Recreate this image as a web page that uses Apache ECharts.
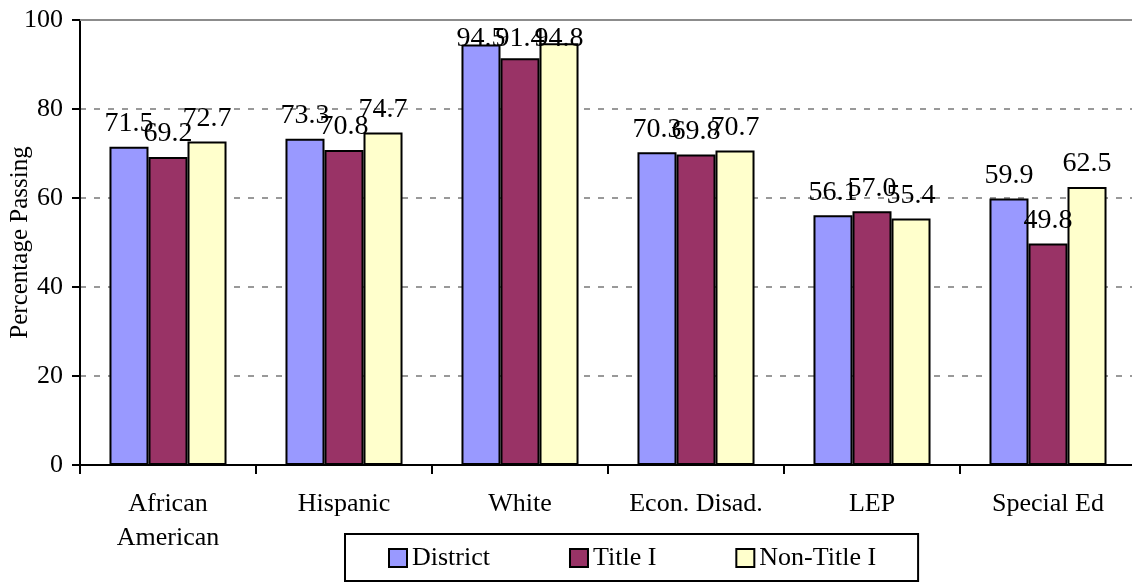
<!DOCTYPE html>
<html>
<head>
<meta charset="utf-8">
<script src="https://cdn.jsdelivr.net/npm/echarts@6/dist/echarts.min.js"></script>
<style>
  html, body { margin: 0; padding: 0; background: #fff; }
  #chart { width: 1132px; height: 585px; }
</style>
</head>
<body>
<div id="chart"></div>
<script>
// Passing rates by student group
var categories = ['African\nAmerican', 'Hispanic', 'White', 'Econ. Disad.', 'LEP', 'Special Ed'];
var seriesNames = ['District', 'Title I', 'Non-Title I'];
var districtValues = [71.5, 73.3, 94.5, 70.3, 56.1, 59.9];
var titleOneValues = [69.2, 70.8, 91.4, 69.8, 57.0, 49.8];
var nonTitleOneValues = [72.7, 74.7, 94.8, 70.7, 55.4, 62.5];
var yTicks = [0, 20, 40, 60, 80, 100];

var FONT = '"Liberation Serif", "Times New Roman", serif';
var colors = ['#9999FF', '#993366', '#FFFFCC'];
var gridTop = 20;

var chart = echarts.init(document.getElementById('chart'), null, { renderer: 'canvas' });

function makeSeries(name, data, color) {
  return {
    name: name,
    type: 'bar',
    data: data,
    barGap: '0%',
    barCategoryGap: '33.5%',
    itemStyle: { color: color, borderColor: '#000', borderWidth: 2 },
    label: {
      show: true,
      position: 'top',
      distance: 9,
      fontFamily: FONT,
      fontSize: 28,
      color: '#000',
      formatter: function (p) { return p.value.toFixed(1); }
    }
  };
}

chart.setOption({
  animation: false,
  backgroundColor: '#fff',
  textStyle: { fontFamily: FONT },
  grid: {
    left: 80, top: gridTop, width: 1056, height: 445,
    containLabel: false, outerBoundsMode: 'none'
  },
  legend: {
    data: seriesNames,
    left: 345,
    top: 534,
    orient: 'horizontal',
    padding: [11, 42, 10, 43],
    itemGap: 79,
    itemWidth: 18,
    itemHeight: 18,
    borderColor: '#000',
    borderWidth: 2,
    icon: 'rect',
    textStyle: { fontFamily: FONT, fontSize: 26, color: '#000' }
  },
  xAxis: [{
    type: 'category',
    data: categories,
    axisLine: { lineStyle: { color: '#000', width: 2 } },
    axisTick: { show: true, length: 9, lineStyle: { color: '#000', width: 2 } },
    axisLabel: {
      fontFamily: FONT, fontSize: 26, color: '#000',
      lineHeight: 34, margin: 22, interval: 0
    }
  }, {
    type: 'category',
    position: 'top',
    data: categories,
    axisLine: { lineStyle: { color: '#8c8c8c', width: 2 } },
    axisTick: { show: false },
    axisLabel: { show: false }
  }],
  yAxis: {
    type: 'value',
    min: yTicks[0],
    max: yTicks[yTicks.length - 1],
    interval: 20,
    name: 'Percentage Passing',
    nameLocation: 'middle',
    nameGap: 47,
    nameRotate: 90,
    nameMoveOverlap: false,
    nameTextStyle: { fontFamily: FONT, fontSize: 25, color: '#000' },
    axisLine: { show: true, lineStyle: { color: '#000', width: 2 } },
    axisTick: { show: true, length: 8, lineStyle: { color: '#000', width: 2 } },
    axisLabel: { fontFamily: FONT, fontSize: 26, color: '#000', margin: 17 },
    splitLine: { show: true, lineStyle: { color: '#999', width: 2, type: [6, 8] } }
  },
  labelLayout: function (params) {
    // keep value labels inside the plotting area
    var r = params.labelRect;
    var minTop = gridTop + 5;
    if (r && r.y < minTop) {
      return { dy: minTop - r.y };
    }
    return {};
  },
  series: [
    makeSeries(seriesNames[0], districtValues, colors[0]),
    makeSeries(seriesNames[1], titleOneValues, colors[1]),
    makeSeries(seriesNames[2], nonTitleOneValues, colors[2])
  ]
});
</script>
</body>
</html>
